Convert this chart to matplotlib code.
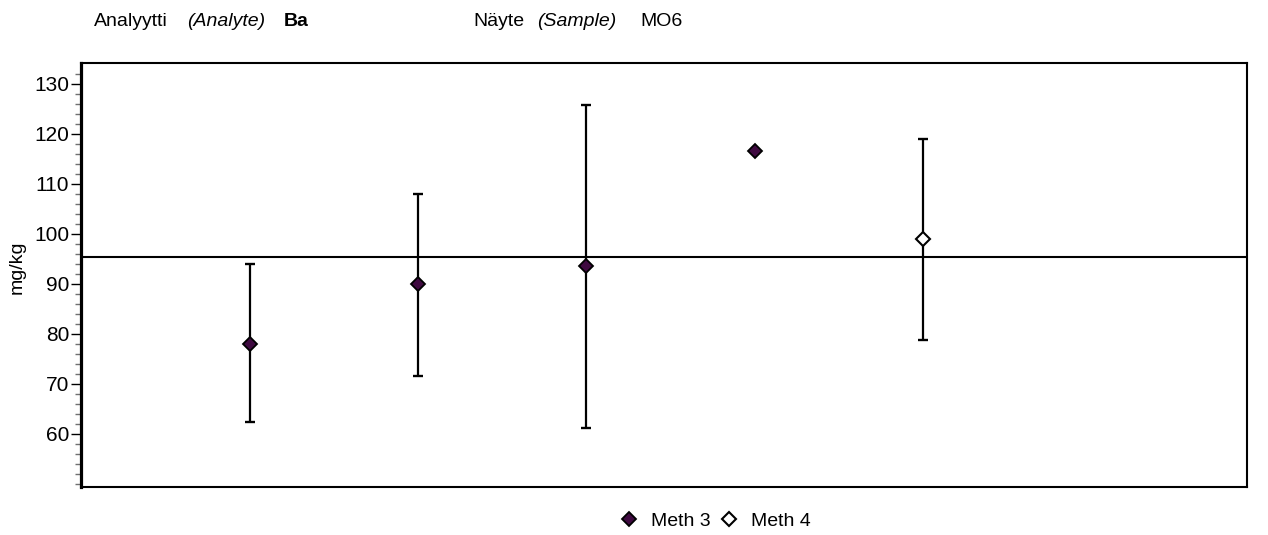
import numpy as np
import matplotlib.pyplot as plt
from matplotlib.lines import Line2D

plt.rcParams['font.family'] = ['Liberation Sans', 'DejaVu Sans']

# laboratory results, mg/kg
labs = [1, 2, 3, 4, 5]
values = [77.9, 90.0, 93.6, 116.5, 98.9]
low = [62.3, 71.5, 61.1, None, 78.7]
high = [93.9, 107.9, 125.7, None, 118.9]
methods = ['Meth 3', 'Meth 3', 'Meth 3', 'Meth 3', 'Meth 4']
assigned = 95.3

analyte = 'Ba'
sample = 'MO6'

purple = '#3f0a40'

fig = plt.figure(figsize=(12.68, 5.35), dpi=100)
ax = fig.add_axes([0.0639, 0.0897, 0.9195, 0.7925])

ax.axhline(assigned, color='black', lw=1.5, zorder=2)

# uncertainty bars
ex, ey, elo, ehi = [], [], [], []
for x, v, lo, hi in zip(labs, values, low, high):
    if lo is None:
        continue
    ex.append(x)
    ey.append(v)
    elo.append(v - lo)
    ehi.append(hi - v)
_, caps, _ = ax.errorbar(ex, ey, yerr=[elo, ehi], fmt='none', ecolor='black',
                         elinewidth=1.6, capsize=3.5, capthick=1.7, zorder=3)
for c in caps:
    c.set_color(purple)

for x, v, m in zip(labs, values, methods):
    if m == 'Meth 3':
        ax.plot(x, v, 'D', ms=7.3, mfc=purple, mec='black', mew=1.3, zorder=4)
    else:
        ax.plot(x, v, 'D', ms=6.8, mfc='white', mec='black', mew=1.5, zorder=4)

ax.set_xlim(0, 6.92)
ax.set_ylim(49.3, 134.1)
ax.set_xticks([])
ax.set_yticks(np.arange(60, 131, 10))
ax.set_yticks(np.arange(50, 134, 2), minor=True)
ax.tick_params(axis='y', which='major', length=7.5, width=1.0, labelsize=15, pad=1)
ax.tick_params(axis='y', which='minor', length=4, width=1.0, color='#707070')
fig.text(17 / 1268, 1 - 267 / 535, 'mg/kg', fontsize=14, rotation=90, ha='center', va='center')

for side in ['top', 'right', 'bottom']:
    ax.spines[side].set_linewidth(1.5)
ax.spines['left'].set_linewidth(2.3)

# header line
hy = 1 - 26 / 535
fig.text(94 / 1268, hy, 'Analyytti', fontsize=14, va='baseline')
fig.text(187 / 1268, hy, '(Analyte)', fontsize=14, style='italic', va='baseline')
fig.text(284 / 1268, hy, analyte, fontsize=14, weight='bold', va='baseline')
fig.text(473 / 1268, hy, 'Näyte', fontsize=14, va='baseline')
fig.text(537 / 1268, hy, '(Sample)', fontsize=14, style='italic', va='baseline')
fig.text(640 / 1268, hy, sample, fontsize=14, va='baseline')

handles = [
    Line2D([], [], ls='none', marker='D', ms=7.3, mfc=purple, mec='black', mew=1.3),
    Line2D([], [], ls='none', marker='D', ms=6.8, mfc='white', mec='black', mew=1.5),
]
fig.legend(handles, ['Meth 3', 'Meth 4'], loc='center', bbox_to_anchor=(716 / 1268, 1 - 521 / 535),
           ncol=2, frameon=False, fontsize=14, handlelength=0.8, handletextpad=0.73,
           columnspacing=0.58, borderpad=0, borderaxespad=0)

fig.savefig('out.png', dpi=100)
